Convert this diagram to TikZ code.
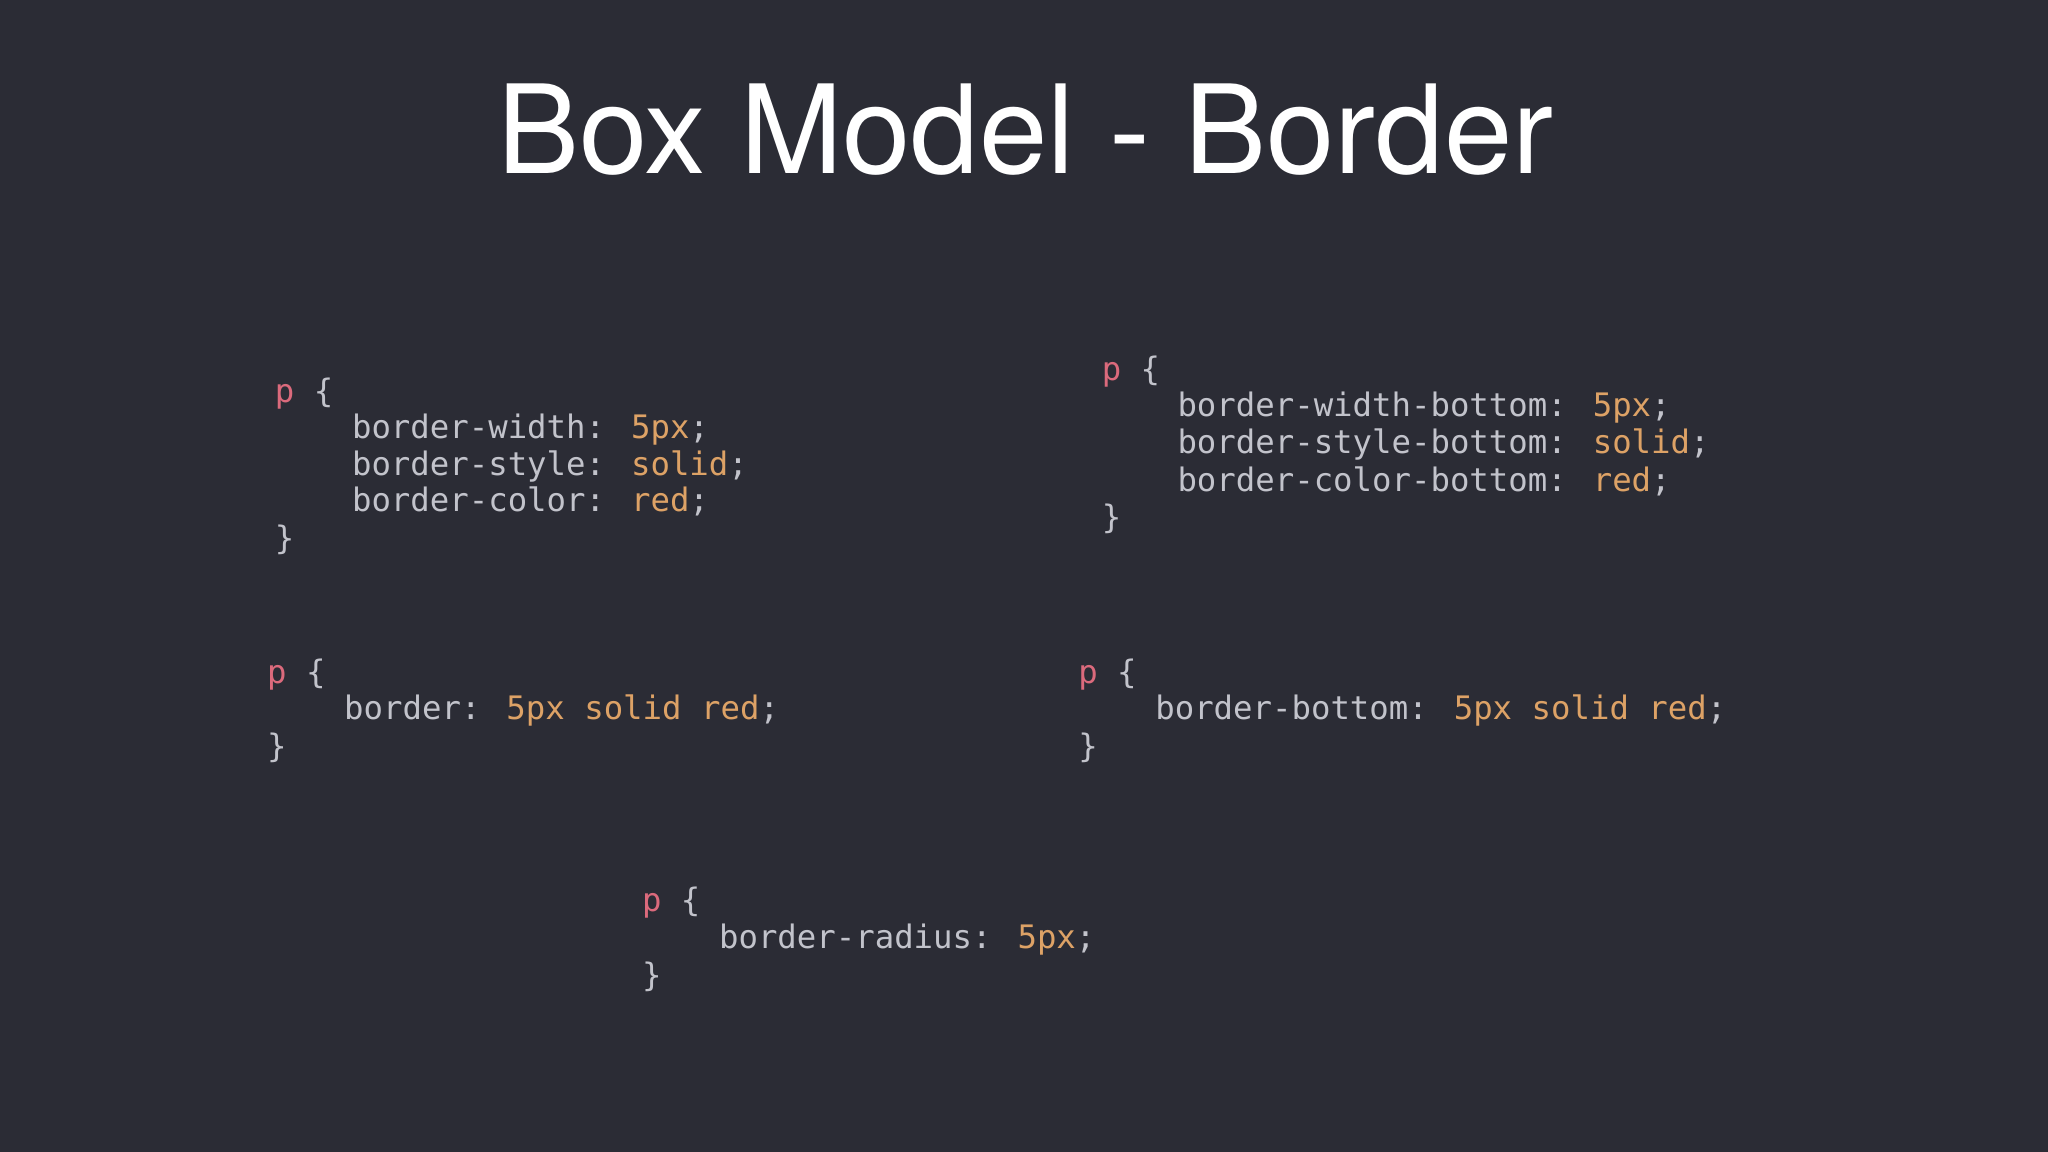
\documentclass[tikz,border=0pt]{standalone}
\usepackage{fontspec}
\setmainfont{TeX Gyre Heros}
\newfontfamily\codefont{DejaVu Sans Mono}
\definecolor{bg}{HTML}{2B2C35}
\definecolor{cg}{HTML}{C2C3CB}
\definecolor{cp}{HTML}{DB6A7C}
\definecolor{co}{HTML}{DDA266}
\newcommand{\pp}{\textcolor{cp}{p}}
\newcommand{\vv}[1]{\textcolor{co}{#1}}
\begin{document}
\begin{tikzpicture}[x=0.01306cm,y=-0.01306cm]
\tikzset{code/.style={anchor=base west,inner sep=0pt,text=cg,font=\codefont\fontsize{9.2pt}{11pt}\selectfont}}
\fill[bg] (0,0) rectangle (1568,882);
\node[text=white,font=\fontsize{35pt}{40pt}\selectfont,anchor=base,inner sep=0pt] (title) at (785,133) {Box Model - Border};
% block 1
\node[code] (a1) at (210,308) {\pp{} \{};
\node[code] (a2) at (269,336) {border-width: \vv{5px};};
\node[code] (a3) at (269,364) {border-style: \vv{solid};};
\node[code] (a4) at (269,392) {border-color: \vv{red};};
\node[code] (a5) at (210,421) {\}};
% block 2
\node[code] (b1) at (843,291) {\pp{} \{};
\node[code] (b2) at (901,319) {border-width-bottom: \vv{5px};};
\node[code] (b3) at (901,347) {border-style-bottom: \vv{solid};};
\node[code] (b4) at (901,376) {border-color-bottom: \vv{red};};
\node[code] (b5) at (843,405) {\}};
% block 3
\node[code] (c1) at (204,523) {\pp{} \{};
\node[code] (c2) at (263,551) {border: \vv{5px solid red};};
\node[code] (c3) at (204,580) {\}};
% block 4
\node[code] (d1) at (825,523) {\pp{} \{};
\node[code] (d2) at (884,551) {border-bottom: \vv{5px solid red};};
\node[code] (d3) at (825,580) {\}};
% block 5
\node[code] (e1) at (491,698) {\pp{} \{};
\node[code] (e2) at (550,726) {border-radius: \vv{5px};};
\node[code] (e3) at (491,755) {\}};
\end{tikzpicture}
\end{document}
